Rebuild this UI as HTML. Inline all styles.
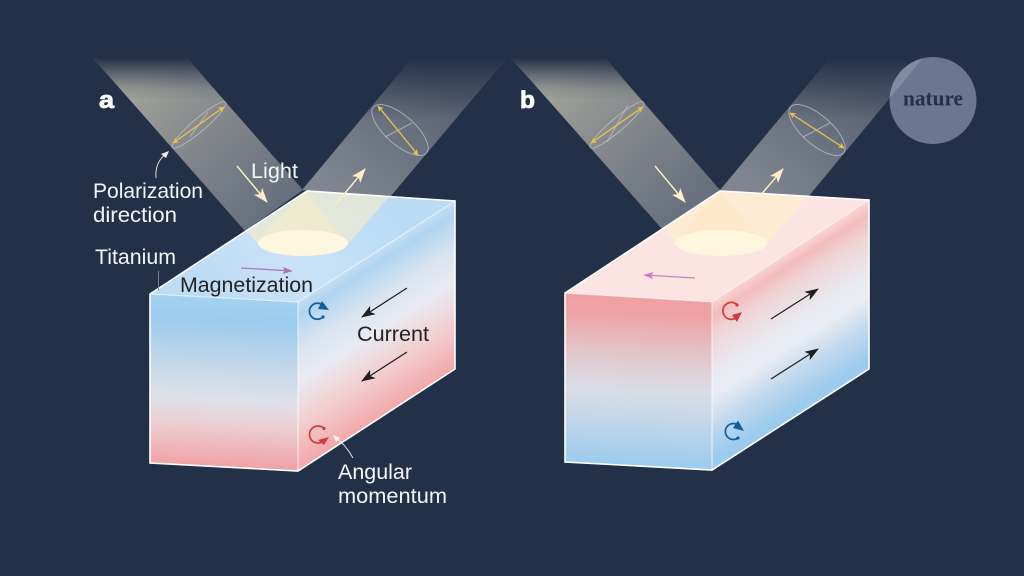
<!DOCTYPE html>
<html><head><meta charset="utf-8">
<style>html,body{margin:0;padding:0;background:#233148;width:1024px;height:576px;overflow:hidden}
svg{display:block}
text{font-family:"Liberation Sans",sans-serif;font-size:21px}
.w{fill:#f4f5f6}.k{fill:#232323}
.e{fill:none;stroke:#c3c6cb;stroke-width:1;opacity:.7}
</style></head><body>
<svg width="1024" height="576" viewBox="0 0 1024 576" xmlns="http://www.w3.org/2000/svg">
<defs>
<linearGradient id="fade" x1="0" y1="58" x2="0" y2="100" gradientUnits="userSpaceOnUse"><stop offset="0" stop-color="#233148"/><stop offset=".4" stop-color="#233148" stop-opacity=".5"/><stop offset=".75" stop-color="#233148" stop-opacity=".12"/><stop offset="1" stop-color="#233148" stop-opacity="0"/></linearGradient>
<linearGradient id="fadeO" x1="0" y1="58" x2="0" y2="120" gradientUnits="userSpaceOnUse"><stop offset="0" stop-color="#233148"/><stop offset=".5" stop-color="#233148" stop-opacity=".45"/><stop offset="1" stop-color="#233148" stop-opacity="0"/></linearGradient>
<linearGradient id="ia" x1="125" y1="85" x2="285" y2="235" gradientUnits="userSpaceOnUse"><stop offset="0" stop-color="#a3a49c"/><stop offset=".45" stop-color="#818589"/><stop offset="1" stop-color="#5f6a7b"/></linearGradient>
<linearGradient id="ib" x1="543" y1="85" x2="703" y2="235" gradientUnits="userSpaceOnUse"><stop offset="0" stop-color="#a3a49c"/><stop offset=".45" stop-color="#818589"/><stop offset="1" stop-color="#5f6a7b"/></linearGradient>
<linearGradient id="oa" x1="345" y1="200" x2="450" y2="80" gradientUnits="userSpaceOnUse"><stop offset="0" stop-color="#7f8690"/><stop offset="1" stop-color="#566071"/></linearGradient>
<linearGradient id="ob" x1="763" y1="200" x2="868" y2="80" gradientUnits="userSpaceOnUse"><stop offset="0" stop-color="#7f8690"/><stop offset="1" stop-color="#566071"/></linearGradient>
<linearGradient id="fa" x1="228" y1="298" x2="220" y2="467" gradientUnits="userSpaceOnUse"><stop offset="0" stop-color="#a4d2f0"/><stop offset=".13" stop-color="#9bcbee"/><stop offset=".35" stop-color="#bcd5ea"/><stop offset=".6" stop-color="#dfe1e9"/><stop offset=".75" stop-color="#ebcfd4"/><stop offset="1" stop-color="#f1a2a5"/></linearGradient>
<linearGradient id="fb" x1="642" y1="298" x2="634" y2="466" gradientUnits="userSpaceOnUse"><stop offset="0" stop-color="#f0a0a2"/><stop offset=".1" stop-color="#efa3a5"/><stop offset=".35" stop-color="#e2c8cd"/><stop offset=".55" stop-color="#d9dde6"/><stop offset=".75" stop-color="#c0d6ea"/><stop offset="1" stop-color="#9bcbee"/></linearGradient>
<linearGradient id="ra" x1="377" y1="251" x2="453" y2="369" gradientUnits="userSpaceOnUse"><stop offset="0" stop-color="#c5ddf2"/><stop offset=".08" stop-color="#afd5f0"/><stop offset=".29" stop-color="#d9e4f0"/><stop offset=".48" stop-color="#e9ebf2"/><stop offset=".75" stop-color="#f3cdce"/><stop offset="1" stop-color="#f2a9ab"/></linearGradient>
<linearGradient id="rb" x1="791" y1="251" x2="867" y2="369" gradientUnits="userSpaceOnUse"><stop offset="0" stop-color="#f8d4d3"/><stop offset=".08" stop-color="#f3bcbc"/><stop offset=".2" stop-color="#efd4d6"/><stop offset=".45" stop-color="#e9ebf2"/><stop offset=".57" stop-color="#e9ecf3"/><stop offset=".76" stop-color="#c0d8ee"/><stop offset=".95" stop-color="#9ccbee"/></linearGradient>
<linearGradient id="ta" x1="230" y1="300" x2="390" y2="200" gradientUnits="userSpaceOnUse"><stop offset="0" stop-color="#bedcf4"/><stop offset=".4" stop-color="#cbe2f7"/><stop offset="1" stop-color="#b9dbf4"/></linearGradient>
<marker id="y" viewBox="0 0 10 10" refX="9" refY="5" markerWidth="6" markerHeight="6" orient="auto-start-reverse" markerUnits="userSpaceOnUse"><path d="M0 0L10 5L0 10L2.500 5Z" fill="#eec04c"/></marker>
<marker id="cr" viewBox="0 0 14 10" refX="13" refY="5" markerWidth="15" markerHeight="11" orient="auto" markerUnits="userSpaceOnUse"><path d="M0 0L14 5L0 10L3.500 5Z" fill="#fdeec5"/></marker>
<marker id="bk" viewBox="0 0 14 10" refX="13" refY="5" markerWidth="14" markerHeight="10" orient="auto" markerUnits="userSpaceOnUse"><path d="M0 0L14 5L0 10L3.500 5Z" fill="#1f1f1f"/></marker>
<marker id="pa" viewBox="0 0 14 10" refX="13" refY="5" markerWidth="10" markerHeight="8" orient="auto" markerUnits="userSpaceOnUse"><path d="M0 0L14 5L0 10L3 5Z" fill="#a874b8"/></marker>
<marker id="pb" viewBox="0 0 14 10" refX="13" refY="5" markerWidth="10" markerHeight="8" orient="auto" markerUnits="userSpaceOnUse"><path d="M0 0L14 5L0 10L3 5Z" fill="#c67fbb"/></marker>
<clipPath id="circ"><circle cx="933" cy="100.500" r="43.500"/></clipPath>
</defs>

<!-- beams a -->
<polygon points="93,58 187,58 303,190 245,231" fill="url(#ia)"/>
<polygon points="93,58 187,58 303,190 245,231" fill="url(#fade)"/>
<polygon points="412,58 507,58 390,197 302,190" fill="url(#oa)"/>
<polygon points="412,58 507,58 390,197 302,190" fill="url(#fadeO)"/>
<!-- beams b -->
<polygon points="511,58 605,58 720,190 662,229" fill="url(#ib)"/>
<polygon points="511,58 605,58 720,190 662,229" fill="url(#fade)"/>
<polygon points="830,58 923,58 808,197 720,190" fill="url(#ob)"/>
<polygon points="830,58 923,58 808,197 720,190" fill="url(#fadeO)"/>

<!-- nature badge -->
<circle cx="933" cy="100.500" r="43.500" fill="#6b7690"/>
<polygon points="830,58 923,58 808,197 720,190" fill="#ffffff" opacity=".16" clip-path="url(#circ)"/>
<text x="903" y="105.500" textLength="60" lengthAdjust="spacingAndGlyphs" style="font-family:'Liberation Serif',serif;font-size:22px;font-weight:bold" fill="#233148">nature</text>

<!-- box a -->
<polygon points="150,294 307,191 455,201 298,302" fill="url(#ta)"/>
<polygon points="150,294 298,302 298,471 150,463" fill="url(#fa)"/>
<polygon points="298,302 455,201 455,369 298,471" fill="url(#ra)"/>
<polygon points="247,232 258,244 348,244 389,197 307,191" fill="#f3eccb" opacity=".65"/>
<polygon points="306,192 263,235 340,235" fill="#fbeec4" opacity=".45"/>
<ellipse cx="303" cy="243" rx="45" ry="13" fill="#fff6df"/>
<path d="M150,294 L307,191 L455,201 L455,369 L298,471 L150,463 Z" fill="none" stroke="#fff" stroke-width="1.600"/>
<path d="M150,294 L298,302 L455,201 M298,302 V471" fill="none" stroke="#fff" stroke-width="1" opacity=".75"/>

<!-- box b -->
<polygon points="565,293 720,191 869,200 712,302" fill="#fce4e3"/>
<polygon points="565,293 712,302 712,470 565,462" fill="url(#fb)"/>
<polygon points="712,302 869,200 869,369 712,470" fill="url(#rb)"/>
<polygon points="664,229 676,244 767,244 807,197 720,191" fill="#fdeecb" opacity=".65"/>
<polygon points="720,192 681,235 758,235" fill="#fde6bd" opacity=".4"/>
<ellipse cx="721" cy="243" rx="46" ry="13" fill="#fff6df"/>
<path d="M565,293 L720,191 L869,200 L869,369 L712,470 L565,462 Z" fill="none" stroke="#fff" stroke-width="1.600"/>
<path d="M565,293 L712,302 L869,200 M712,302 V470" fill="none" stroke="#fff" stroke-width="1" opacity=".7"/>

<!-- polarization ellipses -->
<g transform="rotate(-40.500 199 125)"><ellipse class="e" cx="199" cy="125" rx="35" ry="6.500"/></g>
<line class="e" x1="190" y1="137" x2="208" y2="112"/>
<line x1="173" y1="143" x2="224" y2="107" stroke="#eec04c" stroke-width="1.300" marker-start="url(#y)" marker-end="url(#y)"/>
<g transform="rotate(41 400 130)"><ellipse class="e" cx="400" cy="130" rx="35" ry="14.500"/></g>
<line class="e" x1="385" y1="137" x2="412" y2="123"/>
<line x1="378" y1="106" x2="418" y2="155" stroke="#eec04c" stroke-width="1.300" marker-start="url(#y)" marker-end="url(#y)"/>
<g transform="rotate(-40.500 617 125)"><ellipse class="e" cx="617" cy="125" rx="35" ry="6.500"/></g>
<line class="e" x1="607" y1="142" x2="628" y2="105"/>
<line x1="591" y1="143" x2="643" y2="107" stroke="#eec04c" stroke-width="1.300" marker-start="url(#y)" marker-end="url(#y)"/>
<g transform="rotate(41 817 130)"><ellipse class="e" cx="817" cy="130" rx="35" ry="14.500"/></g>
<line class="e" x1="803" y1="137" x2="830" y2="123"/>
<line x1="790" y1="113" x2="844" y2="148" stroke="#eec04c" stroke-width="1.300" marker-start="url(#y)" marker-end="url(#y)"/>

<!-- light arrows -->
<g stroke="#fdeec5" stroke-width="1.400" fill="none">
<line x1="237" y1="166" x2="267" y2="202" marker-end="url(#cr)"/>
<line x1="336" y1="204" x2="365" y2="169" marker-end="url(#cr)"/>
<line x1="655" y1="166" x2="685" y2="202" marker-end="url(#cr)"/>
<line x1="753" y1="204" x2="783" y2="169" marker-end="url(#cr)"/>
</g>

<!-- magnetization arrows -->
<line x1="241" y1="268" x2="292" y2="271" stroke="#a874b8" stroke-width="1.200" marker-end="url(#pa)"/>
<line x1="695" y1="278" x2="644" y2="275" stroke="#c67fbb" stroke-width="1.200" marker-end="url(#pb)"/>

<!-- current arrows -->
<g stroke="#1f1f1f" stroke-width="1.200" fill="none">
<line x1="407" y1="288" x2="362" y2="317" marker-end="url(#bk)"/>
<line x1="407" y1="352" x2="362" y2="381" marker-end="url(#bk)"/>
<line x1="771" y1="319" x2="818" y2="289" marker-end="url(#bk)"/>
<line x1="771" y1="379" x2="818" y2="349" marker-end="url(#bk)"/>
</g>

<!-- rotation icons -->
<path d="M323,305.500 A8,8 0 1 0 323,317" fill="none" stroke="#115e9e" stroke-width="1.700"/><polygon points="322,301 329,310 318,309" fill="#115e9e"/><circle cx="323" cy="317" r="1.600" fill="#115e9e"/>
<path d="M324,428.500 A8.500,8.500 0 1 0 322,442" fill="none" stroke="#cf3d3f" stroke-width="1.700"/><polygon points="318,440 329,437 324,445" fill="#cf3d3f"/><circle cx="324" cy="428.500" r="1.600" fill="#cf3d3f"/>
<path d="M737,304.500 A8.500,8.500 0 1 0 736,318" fill="none" stroke="#cf3d3f" stroke-width="1.700"/><polygon points="732,315 742,312 737,322" fill="#cf3d3f"/><circle cx="737" cy="305" r="1.600" fill="#cf3d3f"/>
<path d="M738,425 A8,8 0 1 0 738,438" fill="none" stroke="#115e9e" stroke-width="1.700"/><polygon points="738,420.500 744,431 733,428" fill="#115e9e"/><circle cx="738" cy="438" r="1.600" fill="#115e9e"/>

<!-- leaders -->
<line x1="158.500" y1="271" x2="158.500" y2="290" stroke="#75808f" stroke-width="1"/>
<path d="M156,178 C155,166 160,158 167,153" fill="none" stroke="#d9dcdf" stroke-width="1"/><polygon points="169,151 161,154 166,158" fill="#eef0f2"/>
<path d="M353,458 C348,449 342,442 335,437" fill="none" stroke="#e3e6ea" stroke-width="1"/><polygon points="333,435 336,442 340,438" fill="#f5f5f5"/>

<!-- labels -->
<text class="w" x="251" y="178" textLength="47" lengthAdjust="spacingAndGlyphs">Light</text>
<text class="w" x="93" y="198" textLength="110" lengthAdjust="spacingAndGlyphs">Polarization</text>
<text class="w" x="93" y="222" textLength="84" lengthAdjust="spacingAndGlyphs">direction</text>
<text class="w" x="95" y="264" textLength="81" lengthAdjust="spacingAndGlyphs">Titanium</text>
<text class="k" x="180" y="292" textLength="133" lengthAdjust="spacingAndGlyphs">Magnetization</text>
<text class="k" x="357" y="341" textLength="72" lengthAdjust="spacingAndGlyphs">Current</text>
<text class="w" x="338" y="479" textLength="74" lengthAdjust="spacingAndGlyphs">Angular</text>
<text class="w" x="338" y="503" textLength="109" lengthAdjust="spacingAndGlyphs">momentum</text>
<text x="99" y="108" style="font-size:24px;font-weight:bold" fill="#fff" stroke="#fff" stroke-width=".8" textLength="15" lengthAdjust="spacingAndGlyphs">a</text>
<text x="520" y="108" style="font-size:24px;font-weight:bold" fill="#fff" stroke="#fff" stroke-width=".8" textLength="15" lengthAdjust="spacingAndGlyphs">b</text>
</svg>
</body></html>
